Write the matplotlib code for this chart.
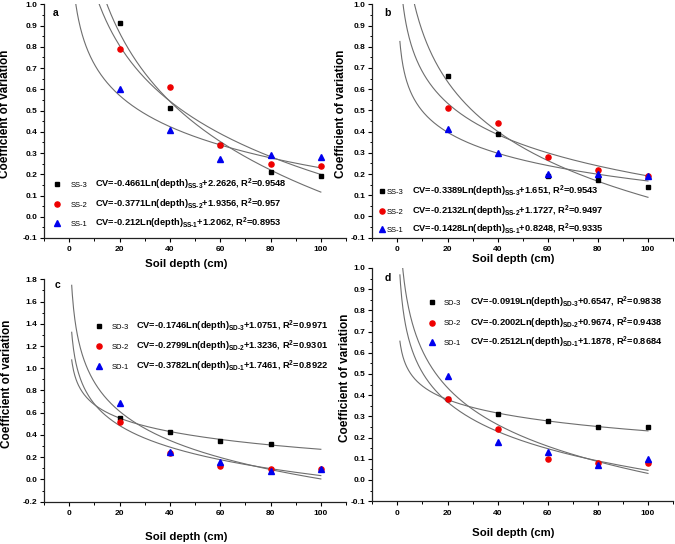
import numpy as np
import matplotlib
matplotlib.use("Agg")
import matplotlib.pyplot as plt
from matplotlib.ticker import MultipleLocator

plt.rcParams['font.family'] = ['Liberation Sans', 'DejaVu Sans']
plt.rcParams['mathtext.fontset'] = 'custom'
plt.rcParams['mathtext.rm'] = 'Liberation Sans:bold'
plt.rcParams['mathtext.bf'] = 'Liberation Sans:bold'
plt.rcParams['mathtext.default'] = 'rm'
plt.rcParams['axes.unicode_minus'] = False

# soil depth (cm)
depth = [20, 40, 60, 80, 100]

# panel a
a_ss3 = [0.91, 0.51, 0.34, 0.21, 0.19]
a_ss2 = [0.79, 0.61, 0.34, 0.25, 0.24]
a_ss1 = [0.60, 0.41, 0.27, 0.29, 0.28]
# panel b
b_ss3 = [0.66, 0.39, 0.19, 0.17, 0.14]
b_ss2 = [0.51, 0.44, 0.28, 0.22, 0.19]
b_ss1 = [0.41, 0.30, 0.20, 0.20, 0.19]
# panel c (SD-3 has no point at 100 cm)
c_depth3 = [20, 40, 60, 80]
c_sd3 = [0.55, 0.43, 0.35, 0.32]
c_sd2 = [0.52, 0.24, 0.12, 0.09, 0.09]
c_sd1 = [0.69, 0.25, 0.16, 0.08, 0.09]
# panel d
d_sd3 = [0.38, 0.31, 0.28, 0.25, 0.25]
d_sd2 = [0.38, 0.24, 0.10, 0.08, 0.08]
d_sd1 = [0.49, 0.18, 0.13, 0.07, 0.10]

# fitted log curves: CV = slope*ln(depth) + intercept, R^2
a_fit = [(-0.4661, 2.2626, '0.9548'), (-0.3771, 1.9356, '0.957'), (-0.212, 1.2062, '0.8953')]
b_fit = [(-0.3389, 1.651, '0.9543'), (-0.2132, 1.1727, '0.9497'), (-0.1428, 0.8248, '0.9335')]
c_fit = [(-0.1746, 1.0751, '0.9971'), (-0.2799, 1.3236, '0.9301'), (-0.3782, 1.7461, '0.8922')]
d_fit = [(-0.0919, 0.6547, '0.9838'), (-0.2002, 0.9674, '0.9438'), (-0.2512, 1.1878, '0.8684')]

styles = [('s', 'black', 3.2), ('o', '#ee0000', 3.7), ('^', '#0000ee', 4.3)]

panels = [
    dict(letter='a', pre='SS', rect=[0.0652, 0.5625, 0.4474, 0.4296], ylim=(-0.1, 1.0), major=0.1,
         series=[(depth, a_ss3), (depth, a_ss2), (depth, a_ss1)], fit=a_fit,
         leg_x=(0.0433, 0.087, 0.169), leg_y=(0.231, 0.145, 0.065),
         letter_xy=(0.03, 0.985), ylab=(-0.130, 0.53), xlab=-0.111),
    dict(letter='b', pre='SS', rect=[0.5516, 0.5631, 0.4455, 0.4290], ylim=(-0.1, 1.0), major=0.1,
         series=[(depth, b_ss3), (depth, b_ss2), (depth, b_ss1)], fit=b_fit,
         leg_x=(0.032, 0.048, 0.133), leg_y=(0.201, 0.115, 0.038),
         letter_xy=(0.04, 0.985), ylab=(-0.104, 0.53), xlab=-0.092),
    dict(letter='c', pre='SD', rect=[0.0652, 0.0778, 0.4474, 0.4088], ylim=(-0.2, 1.8), major=0.2,
         series=[(c_depth3, c_sd3), (depth, c_sd2), (depth, c_sd1)], fit=c_fit,
         leg_x=(0.183, 0.223, 0.305), leg_y=(0.79, 0.70, 0.61),
         letter_xy=(0.036, 0.995), ylab=(-0.121, 0.53), xlab=-0.159),
    dict(letter='d', pre='SD', rect=[0.5516, 0.0787, 0.4455, 0.4287], ylim=(-0.1, 1.0), major=0.1,
         series=[(depth, d_sd3), (depth, d_sd2), (depth, d_sd1)], fit=d_fit,
         leg_x=(0.1975, 0.236, 0.325), leg_y=(0.852, 0.766, 0.681),
         letter_xy=(0.04, 0.98), ylab=(-0.092, 0.53), xlab=-0.137),
]

fig = plt.figure(figsize=(6.75, 5.44), dpi=100)
xs = np.linspace(1, 100, 400)

for p in panels:
    ax = fig.add_axes(p['rect'])
    ax.set_xlim(-10, 110)
    ax.set_ylim(*p['ylim'])
    for s in ['top', 'right']:
        ax.spines[s].set_visible(False)
    for s in ['left', 'bottom']:
        ax.spines[s].set_linewidth(0.9)
        ax.spines[s].set_color('#222222')

    # fitted curves
    for slope, icpt, r2 in p['fit']:
        ax.plot(xs, slope * np.log(xs) + icpt, color='#6e6e6e', lw=0.8, zorder=2)

    # observed points
    for (xd, yd), (m, c, ms) in zip(p['series'], styles):
        ax.plot(xd, yd, ls='none', marker=m, color=c, ms=ms, zorder=3)

    # legend rows (top row is series 3)
    names = [p['pre'] + '-3', p['pre'] + '-2', p['pre'] + '-1']
    for i, ((slope, icpt, r2), (m, c, ms), name) in enumerate(zip(p['fit'], styles, names)):
        lx, tx, ex = p['leg_x']
        ly = p['leg_y'][i]
        ax.plot([lx], [ly], transform=ax.transAxes, marker=m, color=c, ms=ms,
                ls='none', clip_on=False)
        ax.annotate(name, (tx, ly), xycoords='axes fraction', xytext=(0, -2.0),
                    textcoords='offset points', va='baseline', ha='left', fontsize=5.5)
        sub = name.replace('-', '\u2010')
        eq = (f'CV={slope:g}Ln(depth)$_{{{sub}}}$+{icpt:g}, R$^{{2}}$={r2}')
        ax.annotate(eq, (ex, ly), xycoords='axes fraction', xytext=(0, -2.3),
                    textcoords='offset points', va='baseline', ha='left',
                    fontsize=6.7, fontweight='bold')

    ax.text(*p['letter_xy'], p['letter'], transform=ax.transAxes, fontsize=7.5,
            fontweight='bold', va='top', ha='left')

    ax.xaxis.set_major_locator(MultipleLocator(20))
    ax.xaxis.set_minor_locator(MultipleLocator(10))
    ax.set_xticks([0, 20, 40, 60, 80, 100])
    ax.yaxis.set_major_locator(MultipleLocator(p['major']))
    ax.yaxis.set_minor_locator(MultipleLocator(p['major'] / 2))
    ax.yaxis.set_major_formatter(plt.FormatStrFormatter('%.1f'))
    ax.tick_params(which='major', direction='out', length=3, width=0.8, labelsize=6, pad=2)
    ax.tick_params(axis='x', which='major', pad=3)
    ax.tick_params(which='minor', direction='out', length=1.8, width=0.7)
    for lab in ax.get_xticklabels() + ax.get_yticklabels():
        lab.set_fontweight('bold')

    ax.set_ylabel('Coefficient of variation', fontsize=8.5, fontweight='bold')
    ax.yaxis.set_label_coords(*p['ylab'])
    ax.set_xlabel('Soil depth (cm)', fontsize=8.2, fontweight='bold')
    ax.xaxis.set_label_coords(0.47, p['xlab'])
    ax.xaxis.label.set_va('center')
    ax.yaxis.label.set_va('center')

fig.savefig('out.png', dpi=100)
